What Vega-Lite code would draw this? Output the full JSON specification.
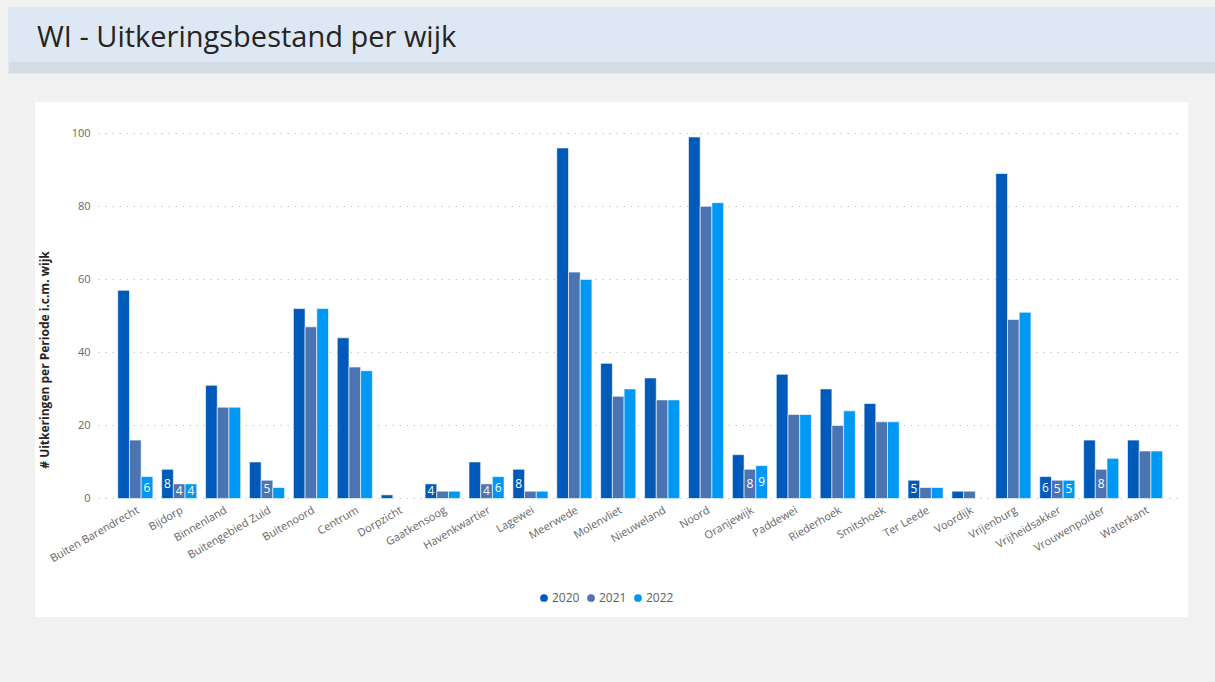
{
  "$schema": "https://vega.github.io/schema/vega-lite/v6.json",
  "background": "#f1f1f1",
  "padding": {"left": 8, "top": 7, "right": 0, "bottom": 65},
  "spacing": 35,
  "center": true,
  "config": {
    "font": "Open Sans",
    "view": {"stroke": null}
  },
  "resolve": {"scale": {"x": "independent", "y": "independent", "color": "independent"}},
  "vconcat": [
    {
      "width": 1207,
      "height": 54,
      "view": {"fill": "#dde8f4", "stroke": null},
      "title": {"text": "WI - Uitkeringsbestand per wijk", "anchor": "start", "frame": "group", "orient": "top", "offset": -69, "dx": 29, "fontSize": 29, "fontWeight": "normal", "color": "#252423", "baseline": "alphabetic", "font": "Open Sans"},
      "data": {"values": [{"h": ""}]},
      "mark": {"type": "text"},
      "encoding": {
        "x": {"field": "h", "type": "nominal", "axis": {"labels": false, "ticks": false, "title": null, "domainColor": "#d4dce6", "domainWidth": 12, "offset": 6}},
        "text": {"field": "h"}
      }
    },
    {
      "width": 1153,
      "height": 515,
      "view": {"fill": "white", "stroke": null},
      "data": {"values": [
        {"wijk": "Buiten Barendrecht", "jaar": "2020", "v": 57, "lbl": null},
        {"wijk": "Buiten Barendrecht", "jaar": "2021", "v": 16, "lbl": null},
        {"wijk": "Buiten Barendrecht", "jaar": "2022", "v": 6, "lbl": 6},
        {"wijk": "Bijdorp", "jaar": "2020", "v": 8, "lbl": 8},
        {"wijk": "Bijdorp", "jaar": "2021", "v": 4, "lbl": 4},
        {"wijk": "Bijdorp", "jaar": "2022", "v": 4, "lbl": 4},
        {"wijk": "Binnenland", "jaar": "2020", "v": 31, "lbl": null},
        {"wijk": "Binnenland", "jaar": "2021", "v": 25, "lbl": null},
        {"wijk": "Binnenland", "jaar": "2022", "v": 25, "lbl": null},
        {"wijk": "Buitengebied Zuid", "jaar": "2020", "v": 10, "lbl": null},
        {"wijk": "Buitengebied Zuid", "jaar": "2021", "v": 5, "lbl": 5},
        {"wijk": "Buitengebied Zuid", "jaar": "2022", "v": 3, "lbl": null},
        {"wijk": "Buitenoord", "jaar": "2020", "v": 52, "lbl": null},
        {"wijk": "Buitenoord", "jaar": "2021", "v": 47, "lbl": null},
        {"wijk": "Buitenoord", "jaar": "2022", "v": 52, "lbl": null},
        {"wijk": "Centrum", "jaar": "2020", "v": 44, "lbl": null},
        {"wijk": "Centrum", "jaar": "2021", "v": 36, "lbl": null},
        {"wijk": "Centrum", "jaar": "2022", "v": 35, "lbl": null},
        {"wijk": "Dorpzicht", "jaar": "2020", "v": 1, "lbl": null},
        {"wijk": "Gaatkensoog", "jaar": "2020", "v": 4, "lbl": 4},
        {"wijk": "Gaatkensoog", "jaar": "2021", "v": 2, "lbl": null},
        {"wijk": "Gaatkensoog", "jaar": "2022", "v": 2, "lbl": null},
        {"wijk": "Havenkwartier", "jaar": "2020", "v": 10, "lbl": null},
        {"wijk": "Havenkwartier", "jaar": "2021", "v": 4, "lbl": 4},
        {"wijk": "Havenkwartier", "jaar": "2022", "v": 6, "lbl": 6},
        {"wijk": "Lagewei", "jaar": "2020", "v": 8, "lbl": 8},
        {"wijk": "Lagewei", "jaar": "2021", "v": 2, "lbl": null},
        {"wijk": "Lagewei", "jaar": "2022", "v": 2, "lbl": null},
        {"wijk": "Meerwede", "jaar": "2020", "v": 96, "lbl": null},
        {"wijk": "Meerwede", "jaar": "2021", "v": 62, "lbl": null},
        {"wijk": "Meerwede", "jaar": "2022", "v": 60, "lbl": null},
        {"wijk": "Molenvliet", "jaar": "2020", "v": 37, "lbl": null},
        {"wijk": "Molenvliet", "jaar": "2021", "v": 28, "lbl": null},
        {"wijk": "Molenvliet", "jaar": "2022", "v": 30, "lbl": null},
        {"wijk": "Nieuweland", "jaar": "2020", "v": 33, "lbl": null},
        {"wijk": "Nieuweland", "jaar": "2021", "v": 27, "lbl": null},
        {"wijk": "Nieuweland", "jaar": "2022", "v": 27, "lbl": null},
        {"wijk": "Noord", "jaar": "2020", "v": 99, "lbl": null},
        {"wijk": "Noord", "jaar": "2021", "v": 80, "lbl": null},
        {"wijk": "Noord", "jaar": "2022", "v": 81, "lbl": null},
        {"wijk": "Oranjewijk", "jaar": "2020", "v": 12, "lbl": null},
        {"wijk": "Oranjewijk", "jaar": "2021", "v": 8, "lbl": 8},
        {"wijk": "Oranjewijk", "jaar": "2022", "v": 9, "lbl": 9},
        {"wijk": "Paddewei", "jaar": "2020", "v": 34, "lbl": null},
        {"wijk": "Paddewei", "jaar": "2021", "v": 23, "lbl": null},
        {"wijk": "Paddewei", "jaar": "2022", "v": 23, "lbl": null},
        {"wijk": "Riederhoek", "jaar": "2020", "v": 30, "lbl": null},
        {"wijk": "Riederhoek", "jaar": "2021", "v": 20, "lbl": null},
        {"wijk": "Riederhoek", "jaar": "2022", "v": 24, "lbl": null},
        {"wijk": "Smitshoek", "jaar": "2020", "v": 26, "lbl": null},
        {"wijk": "Smitshoek", "jaar": "2021", "v": 21, "lbl": null},
        {"wijk": "Smitshoek", "jaar": "2022", "v": 21, "lbl": null},
        {"wijk": "Ter Leede", "jaar": "2020", "v": 5, "lbl": 5},
        {"wijk": "Ter Leede", "jaar": "2021", "v": 3, "lbl": null},
        {"wijk": "Ter Leede", "jaar": "2022", "v": 3, "lbl": null},
        {"wijk": "Voordijk", "jaar": "2020", "v": 2, "lbl": null},
        {"wijk": "Voordijk", "jaar": "2021", "v": 2, "lbl": null},
        {"wijk": "Vrijenburg", "jaar": "2020", "v": 89, "lbl": null},
        {"wijk": "Vrijenburg", "jaar": "2021", "v": 49, "lbl": null},
        {"wijk": "Vrijenburg", "jaar": "2022", "v": 51, "lbl": null},
        {"wijk": "Vrijheidsakker", "jaar": "2020", "v": 6, "lbl": 6},
        {"wijk": "Vrijheidsakker", "jaar": "2021", "v": 5, "lbl": 5},
        {"wijk": "Vrijheidsakker", "jaar": "2022", "v": 5, "lbl": 5},
        {"wijk": "Vrouwenpolder", "jaar": "2020", "v": 16, "lbl": null},
        {"wijk": "Vrouwenpolder", "jaar": "2021", "v": 8, "lbl": 8},
        {"wijk": "Vrouwenpolder", "jaar": "2022", "v": 11, "lbl": null},
        {"wijk": "Waterkant", "jaar": "2020", "v": 16, "lbl": null},
        {"wijk": "Waterkant", "jaar": "2021", "v": 13, "lbl": null},
        {"wijk": "Waterkant", "jaar": "2022", "v": 13, "lbl": null}
      ]},
      "layer": [
        {
          "mark": {"type": "bar", "stroke": "white", "strokeWidth": 0.6},
          "encoding": {
            "x": {
              "field": "wijk", "type": "nominal", "sort": null,
              "scale": {"domain": ["Buiten Barendrecht", "Bijdorp", "Binnenland", "Buitengebied Zuid", "Buitenoord", "Centrum", "Dorpzicht", "Gaatkensoog", "Havenkwartier", "Lagewei", "Meerwede", "Molenvliet", "Nieuweland", "Noord", "Oranjewijk", "Paddewei", "Riederhoek", "Smitshoek", "Ter Leede", "Voordijk", "Vrijenburg", "Vrijheidsakker", "Vrouwenpolder", "Waterkant"], "range": [63, 1143], "paddingInner": 0.2, "paddingOuter": 0.4, "align": 0.5625},
              "axis": {"orient": "bottom", "offset": -118, "domain": false, "ticks": false, "grid": false, "labelAngle": -30, "labelAlign": "right", "labelBaseline": "top", "labelPadding": 5, "labelColor": "#666666", "labelFontSize": 11, "labelOverlap": false, "title": null}
            },
            "xOffset": {"field": "jaar", "type": "nominal", "scale": {"domain": ["2020", "2021", "2022"], "paddingInner": 0, "paddingOuter": 0}},
            "y": {
              "field": "v", "type": "quantitative", "stack": null,
              "scale": {"domain": [-32.45, 108.57], "nice": false, "zero": false},
              "axis": {"orient": "left", "offset": -61, "values": [0, 20, 40, 60, 80, 100], "ticks": false, "domain": false, "labelPadding": 6, "labelColor": "#666666", "labelFontSize": 11, "grid": true, "gridColor": "#c8c8c8", "gridDash": [1.5, 5.5], "gridWidth": 1, "title": "# Uitkeringen per Periode i.c.m. wijk", "titleFontSize": 12, "titleFontWeight": "bold", "titleColor": "#252423", "titlePadding": 20}
            },
            "color": {
              "field": "jaar", "type": "nominal",
              "scale": {"domain": ["2020", "2021", "2022"], "range": ["#005ab9", "#4a75b2", "#0098f5"]},
              "legend": {"orient": "none", "legendX": 503, "legendY": 490, "direction": "horizontal", "title": null, "symbolType": "circle", "symbolSize": 60, "symbolStrokeWidth": 0, "labelFontSize": 12, "labelColor": "#605e5c", "columnPadding": 5, "labelOffset": 2, "padding": 0}
            }
          }
        },
        {
          "transform": [{"filter": "datum.lbl != null"}],
          "mark": {"type": "text", "color": "white", "fontSize": 12, "baseline": "middle", "align": "center"},
          "encoding": {
            "x": {"field": "wijk", "type": "nominal", "sort": null},
            "xOffset": {"field": "jaar", "type": "nominal"},
            "y": {"field": "v", "type": "quantitative", "scale": {"domain": [-64.9, 217.14], "nice": false, "zero": false}, "axis": null},
            "text": {"field": "lbl"}
          }
        }
      ],
      "resolve": {"scale": {"y": "independent"}}
    }
  ]
}
